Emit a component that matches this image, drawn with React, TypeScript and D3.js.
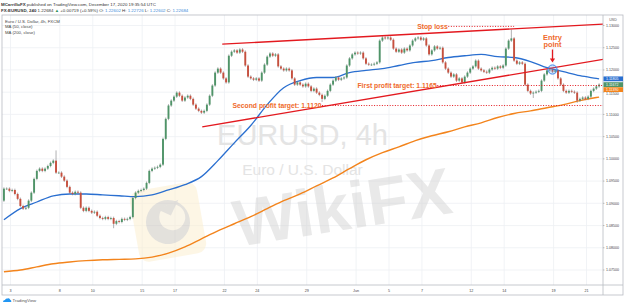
import React from "react";
import * as d3 from "d3";

// ---------- data ----------
const firstOpen = 1.0906;
const closes = [
  1.0933, 1.0933, 1.0928, 1.0930, 1.0921, 1.0910, 1.0894, 1.0888, 1.0890, 1.0906,
  1.0924, 1.0955, 1.0973, 1.0978, 1.0973, 1.0978, 1.0984, 1.0991, 1.0996, 1.0969,
  1.0969, 1.0960, 1.0951, 1.0937, 1.0924, 1.0921, 1.0926, 1.0924, 1.0890, 1.0883,
  1.0890, 1.0883, 1.0879, 1.0881, 1.0872, 1.0867, 1.0865, 1.0869, 1.0865, 1.0867,
  1.0854, 1.0860, 1.0858, 1.0865, 1.0863, 1.0865, 1.0869, 1.0912, 1.0924, 1.0928,
  1.0930, 1.0933, 1.0946, 1.0973, 1.0978, 1.0980, 1.0982, 1.0987, 1.1045, 1.1090,
  1.1120, 1.1131, 1.1140, 1.1149, 1.1142, 1.1131, 1.1138, 1.1142, 1.1135, 1.1122,
  1.1113, 1.1108, 1.1104, 1.1108, 1.1122, 1.1142, 1.1165, 1.1194, 1.1203, 1.1194,
  1.1181, 1.1172, 1.1232, 1.1241, 1.1244, 1.1239, 1.1246, 1.1241, 1.1210, 1.1185,
  1.1181, 1.1178, 1.1181, 1.1176, 1.1194, 1.1212, 1.1230, 1.1237, 1.1232, 1.1235,
  1.1208, 1.1203, 1.1199, 1.1203, 1.1199, 1.1181, 1.1167, 1.1172, 1.1167, 1.1163,
  1.1169, 1.1163, 1.1153, 1.1158, 1.1149, 1.1144, 1.1135, 1.1142, 1.1153, 1.1167,
  1.1176, 1.1183, 1.1178, 1.1181, 1.1183, 1.1210, 1.1226, 1.1235, 1.1239, 1.1237,
  1.1239, 1.1226, 1.1214, 1.1212, 1.1212, 1.1214, 1.1217, 1.1266, 1.1273, 1.1271,
  1.1273, 1.1268, 1.1248, 1.1241, 1.1246, 1.1239, 1.1248, 1.1244, 1.1255, 1.1266,
  1.1271, 1.1273, 1.1268, 1.1271, 1.1255, 1.1235, 1.1244, 1.1253, 1.1248, 1.1250,
  1.1217, 1.1203, 1.1194, 1.1185, 1.1190, 1.1176, 1.1181, 1.1172, 1.1185, 1.1194,
  1.1203, 1.1208, 1.1221, 1.1203, 1.1199, 1.1196, 1.1194, 1.1201, 1.1205, 1.1203,
  1.1208, 1.1205, 1.1210, 1.1248, 1.1266, 1.1271, 1.1221, 1.1214, 1.1217, 1.1214,
  1.1167, 1.1153, 1.1147, 1.1149, 1.1151, 1.1153, 1.1176, 1.1190, 1.1199, 1.1201,
  1.1196, 1.1199, 1.1181, 1.1167, 1.1153, 1.1149, 1.1153, 1.1151, 1.1149, 1.1131,
  1.1135, 1.1138, 1.1135, 1.1140, 1.1153, 1.1158, 1.1163, 1.1167,
];
const extraHighBars = [19, 185];
const extraHighs = [1.1019, 1.1291];
const extraLowBars = [40, 116, 193, 209];
const extraLows = [1.0844, 1.1128, 1.1137, 1.1126];

const maBars = [0, 6, 12, 18, 24, 30, 36, 42, 48, 54, 60, 66, 72, 78, 84, 90, 96, 102, 108, 114,
  120, 126, 132, 138, 144, 150, 156, 162, 168, 174, 180, 186, 192, 198, 204, 210, 216, 217];
const ma50 = [1.0863, 1.0888, 1.0903, 1.0917, 1.0921, 1.0921, 1.0919, 1.0917, 1.0915, 1.0919,
  1.0930, 1.0942, 1.0960, 1.0996, 1.1036, 1.1075, 1.1122, 1.1160, 1.1176, 1.1183,
  1.1183, 1.1194, 1.1199, 1.1203, 1.1210, 1.1217, 1.1221, 1.1228, 1.1232, 1.1235,
  1.1230, 1.1228, 1.1219, 1.1205, 1.1196, 1.1187, 1.1181, 1.1180];
const ma200 = [1.0746, 1.0750, 1.0757, 1.0764, 1.0768, 1.0771, 1.0773, 1.0774, 1.0775, 1.0779,
  1.0788, 1.0802, 1.0820, 1.0838, 1.0854, 1.0870, 1.0888, 1.0906, 1.0921, 1.0939,
  1.0957, 1.0978, 1.0998, 1.1014, 1.1027, 1.1041, 1.1052, 1.1061, 1.1072, 1.1081,
  1.1093, 1.1102, 1.1108, 1.1115, 1.1122, 1.1131, 1.1138, 1.1139];

const timeLabels = ["3", "8", "10", "15", "17", "22", "24", "29", "Jun", "5", "7", "12", "14", "19", "21"];
const timeTickDays = [0, 3, 5, 8, 10, 13, 15, 18, 21, 23, 25, 28, 30, 33, 35];
const priceTicks = [1.075, 1.08, 1.085, 1.09, 1.095, 1.1, 1.105, 1.11, 1.115, 1.12, 1.125, 1.13];

const upperTrendBars = [79.6, 220];
const upperTrendPrices = [1.1258, 1.13035];
const lowerTrendBars = [72.3, 220];
const lowerTrendPrices = [1.1072, 1.12255];

const stopLoss = 1.1298;
const stopLossBars = [162, 186];
const firstTarget = 1.1165;
const firstTargetBar = 158;
const secondTarget = 1.112;
const secondTargetBar = 116;
const entryBar = 200;
const entryPrice = 1.1201;

const lastMa50Label = "1.11805";
const lastCloseLabel = "1.11672";
const lastMa200Label = "1.11390";

// ---------- layout ----------
const W = 624, H = 307;
const L = 2, R = 603, T = 15, B = 285;
const barsPerDay = 6;
const startDay = -0.4;

const xDay = d3.scaleLinear().domain([0, 35]).range([10.5, 586.5]);
const xBar = (i: number) => xDay(startDay + i / barsPerDay);
const y = d3.scaleLinear().domain([1.075, 1.13]).range([270, 25.5]);

const UP = "#4f9468", DOWN = "#c7503e", WICK = "#7b7b7e";
const RED = "#e3191f", ORANGE_TXT = "#ef6a2c";
const BLUE = "#2a6fd0", ORANGE = "#f3841c";
const FONT = "'Liberation Sans', Arial, sans-serif";

export default function App() {
  const candles = closes.map((c, i) => {
    const o = i === 0 ? firstOpen : closes[i - 1];
    let h = Math.max(o, c) + 0.0003;
    let l = Math.min(o, c) - 0.0003;
    const hi = extraHighBars.indexOf(i);
    if (hi >= 0) h = extraHighs[hi];
    const li = extraLowBars.indexOf(i);
    if (li >= 0) l = extraLows[li];
    return { i, o, h, l, c };
  });

  const maLine = d3.line<number>()
    .x((_, k) => xBar(maBars[k]))
    .y((v) => y(v))
    .curve(d3.curveMonotoneX);

  const trend = (bars: number[], prices: number[]) =>
    d3.line<number>().x((b) => xBar(b)).y((_, k) => y(prices[k]))(bars) || "";

  const ex = xBar(entryBar);
  const ey = y(entryPrice);
  const lastClose = closes[closes.length - 1];

  const priceBoxes = [
    { yc: y(ma50[ma50.length - 1]), label: lastMa50Label, col: BLUE },
    { yc: y(lastClose), label: lastCloseLabel, col: UP },
    { yc: y(lastClose) + 5, label: lastMa200Label, col: ORANGE },
  ];

  return (
    <svg width={W} height={H} style={{ position: "absolute", left: 0, top: 0, background: "#fff" }}
      fontFamily={FONT}>
      <defs>
        <clipPath id="plot"><rect x={L} y={T} width={R - L} height={B - T} /></clipPath>
      </defs>
      <rect width={W} height={H} fill="#fff" />

      {/* header */}
      <text x={1} y={5.5} fontSize={4.4} fill="#333">
        <tspan fontWeight="bold">MCarrilloFX</tspan> published on TradingView.com, December 17, 2020 19:35:54 UTC
      </text>
      <text x={1} y={11.5} fontSize={4.4} fill="#333">
        <tspan fontWeight="bold">FX:EURUSD, 240</tspan> 1.22684 <tspan fill="#2f8f5b">▲</tspan> +0.00719 (+0.59%)
        {" "}O: <tspan fill="#3d8bd9">1.22602</tspan> H: <tspan fill="#3d8bd9">1.22726</tspan> L: <tspan fill="#3d8bd9">1.22602</tspan> C: <tspan fill="#3d8bd9">1.22684</tspan>
      </text>

      {/* grid */}
      <g stroke="#eef0f4" strokeWidth={0.8}>
        {priceTicks.map((p) => (
          <line key={"h" + p} x1={L} x2={R} y1={y(p)} y2={y(p)} />
        ))}
        {timeTickDays.map((d) => (
          <line key={"v" + d} x1={xDay(d)} x2={xDay(d)} y1={T} y2={B} />
        ))}
      </g>

      {/* TradingView watermark */}
      <text x={(L + R) / 2} y={145} fontSize={29} textAnchor="middle" fill="#e4e4e4">EURUSD, 4h</text>
      <text x={(L + R) / 2} y={175} fontSize={15.5} textAnchor="middle" fill="#e4e4e4">Euro / U.S. Dollar</text>

      {/* WikiFX watermark */}
      <g opacity={0.5}>
        <g transform="translate(168,222) rotate(-10)">
          <rect x={-34} y={-36} width={68} height={72} rx={10} fill="#fcefcd" />
          <circle cx={0} cy={0} r={22} fill="#c9c4bb" />
          <circle cx={5} cy={-4} r={13} fill="#f7ecd2" />
          <path d="M -8 -14 L 14 -20 L 4 -6 Z" fill="#c9c4bb" />
        </g>
        <text x={342} y={230} fontSize={66} fontWeight="bold" textAnchor="middle" fill="#d4d4d4"
          transform="rotate(-9 342 205)">WikiFX</text>
      </g>

      <g clipPath="url(#plot)">
        {/* MAs */}
        <path d={maLine(ma200) || ""} fill="none" stroke={ORANGE} strokeWidth={1.4} />
        <path d={maLine(ma50) || ""} fill="none" stroke={BLUE} strokeWidth={1.3} />

        {/* candles */}
        {candles.map((k) => {
          const x = xBar(k.i);
          const up = k.c >= k.o;
          const top = y(Math.max(k.o, k.c));
          const bot = y(Math.min(k.o, k.c));
          return (
            <g key={k.i}>
              <line x1={x} x2={x} y1={y(k.h)} y2={y(k.l)} stroke={WICK} strokeWidth={0.6} />
              <rect x={x - 0.95} width={1.9} y={top} height={Math.max(0.7, bot - top)} fill={up ? UP : DOWN} />
            </g>
          );
        })}

        {/* trend channel */}
        <path d={trend(upperTrendBars, upperTrendPrices)} stroke={RED} strokeWidth={1.4} fill="none" />
        <path d={trend(lowerTrendBars, lowerTrendPrices)} stroke={RED} strokeWidth={1.4} fill="none" />

        {/* dotted levels */}
        <line x1={xBar(stopLossBars[0])} x2={xBar(stopLossBars[1])} y1={y(stopLoss)} y2={y(stopLoss)}
          stroke={RED} strokeWidth={1} strokeDasharray="1 1.6" />
        <line x1={xBar(firstTargetBar)} x2={R} y1={y(firstTarget)} y2={y(firstTarget)}
          stroke={RED} strokeWidth={1} strokeDasharray="1 1.6" />
        <line x1={xBar(secondTargetBar)} x2={R} y1={y(secondTarget)} y2={y(secondTarget)}
          stroke={RED} strokeWidth={1} strokeDasharray="1 1.6" />

        {/* entry */}
        <circle cx={ex} cy={ey} r={4.6} fill="rgba(80,150,240,0.25)" stroke="#3c86ee" strokeWidth={1} />
        <line x1={ex} x2={ex} y1={ey - 20} y2={ey - 10} stroke={RED} strokeWidth={1.3} />
        <path d={`M ${ex - 2.6} ${ey - 11} L ${ex + 2.6} ${ey - 11} L ${ex} ${ey - 7} Z`} fill={RED} />
      </g>

      {/* annotation texts */}
      <g fill={ORANGE_TXT} fontWeight="bold" fontSize={6.8}>
        <text x={xBar(stopLossBars[0]) - 0.5} y={y(stopLoss) + 2.3} textAnchor="end">Stop loss</text>
        <text x={xBar(firstTargetBar) - 0.5} y={y(firstTarget) + 2.1} textAnchor="end">First profit target: 1.1165</text>
        <text x={xBar(secondTargetBar) - 0.5} y={y(secondTarget) + 2.1} textAnchor="end">Second profit target: 1.1120</text>
        <text x={ex} y={ey - 30} textAnchor="middle" fontSize={7.4}>Entry</text>
        <text x={ex} y={ey - 22.5} textAnchor="middle" fontSize={7.4}>point</text>
      </g>

      {/* legend */}
      <g fontSize={4.3} fill="#444">
        <text x={5} y={22.5}>Euro / U.S. Dollar, 4h, FXCM</text>
        <text x={5} y={28}>MA (50, close)</text>
        <text x={5} y={33.5}>MA (200, close)</text>
      </g>

      {/* frame */}
      <g stroke="#b8bbc2" strokeWidth={0.8} fill="none">
        <rect x={L} y={T} width={W - 1 - L} height={295 - T} />
        <line x1={R} x2={R} y1={T} y2={295} />
        <line x1={L} x2={W - 1} y1={B} y2={B} />
      </g>

      {/* price axis */}
      <text x={613} y={21} fontSize={3.6} fill="#555" textAnchor="middle">USD</text>
      <g fontSize={3.6} fill="#444">
        {priceTicks.map((p) => (
          <g key={"t" + p}>
            <line x1={R} x2={R + 1.5} y1={y(p)} y2={y(p)} stroke="#888" strokeWidth={0.5} />
            <text x={R + 3} y={y(p) + (p === 1.115 ? 2.6 : 1.3)}>{d3.format(".5f")(p)}</text>
          </g>
        ))}
      </g>
      {priceBoxes.map((b, k) => (
        <g key={"pl" + k}>
          <rect x={R + 0.5} y={b.yc - 2.4} width={19.5} height={4.8} fill={b.col} />
          <text x={R + 3} y={b.yc + 1.2} fontSize={3.5} fill="#fff">{b.label}</text>
        </g>
      ))}

      {/* time axis */}
      <g fontSize={3.7} fill="#444" textAnchor="middle">
        {timeTickDays.map((d, k) => (
          <text key={"x" + d} x={xDay(d)} y={291.5}>{timeLabels[k]}</text>
        ))}
      </g>

      {/* TradingView logo */}
      <g transform="translate(2,297)">
        <path d="M1 5 Q1 3 3 3 Q3.5 1 5.5 1.5 Q7.5 0.5 8.2 2.8 Q9.5 3 9.3 5 Z" fill="#2196f3" />
        <text x={10.5} y={4.8} fontSize={4.3} fill="#555">TradingView</text>
      </g>
    </svg>
  );
}
